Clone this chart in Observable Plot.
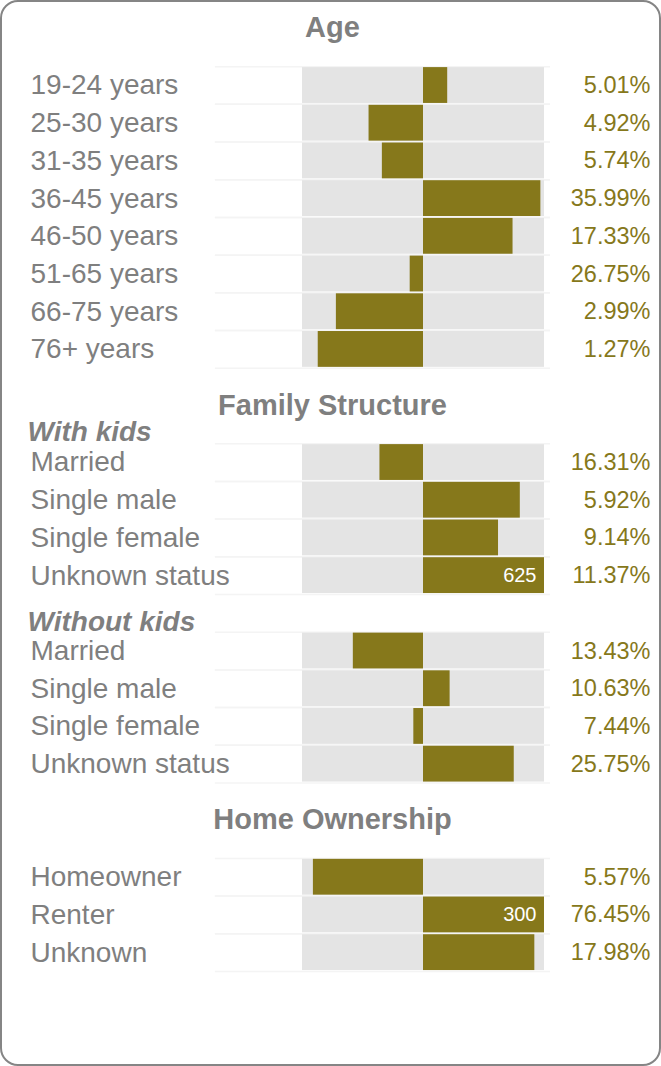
<!DOCTYPE html>
<html>
<head>
<meta charset="utf-8">
<script src="https://cdn.jsdelivr.net/npm/d3@7"></script>
<script src="https://cdn.jsdelivr.net/npm/@observablehq/plot@0.6"></script>
<style>
html, body { margin: 0; padding: 0; background: #fff; }
#card { position: relative; width: 661px; height: 1066px; overflow: hidden; }
#card::after { content: ""; position: absolute; inset: 0; border: 2px solid #858585; border-radius: 18px; box-sizing: border-box; pointer-events: none; }
#card svg { display: block; }
</style>
</head>
<body>
<div id="card"></div>
<script>
// ---- data ----
const sectionTitles = ["Age", "Family Structure", "Home Ownership"];
const subgroupTitles = ["With kids", "Without kids"];

const ageLabels = ["19-24 years", "25-30 years", "31-35 years", "36-45 years", "46-50 years", "51-65 years", "66-75 years", "76+ years"];
const ageIndex = [120, 55, 66, 197, 174, 89, 28, 13];
const agePct = [5.01, 4.92, 5.74, 35.99, 17.33, 26.75, 2.99, 1.27];

const familyLabels = ["Married", "Single male", "Single female", "Unknown status"];
const withKidsIndex = [64, 180, 162, 625];
const withKidsPct = [16.31, 5.92, 9.14, 11.37];
const withoutKidsIndex = [42, 122, 92, 175];
const withoutKidsPct = [13.43, 10.63, 7.44, 25.75];

const homeLabels = ["Homeowner", "Renter", "Unknown"];
const homeIndex = [9, 300, 192];
const homePct = [5.57, 76.45, 17.98];

const indexDomain = [0, 200];   // bars diverge from 100 (baseline); values above 200 are capped and labeled
const baseline = 100;

// ---- layout (row slots) ----
const rows = [];
function addRows(labels, idx, pct, start) {
  labels.forEach((label, i) => rows.push({label, index: idx[i], pct: pct[i], slot: start + i}));
}
addRows(ageLabels, ageIndex, agePct, 0);
addRows(familyLabels, withKidsIndex, withKidsPct, 10);
addRows(familyLabels, withoutKidsIndex, withoutKidsPct, 15);
addRows(homeLabels, homeIndex, homePct, 21);

const titleRows = sectionTitles.map((t, i) => ({text: t, slot: [-1.52, 8.48, 19.48][i]}));
const subRows = subgroupTitles.map((t, i) => ({text: t, slot: [9.2, 14.24][i]}));

const edges = [];
rows.forEach(r => { edges.push(r.slot - 0.5); edges.push(r.slot + 0.5); });

const gray = "#7f7f7f";
const olive = "#86781b";
const font = "'Liberation Sans', Arial, Helvetica, sans-serif";
const h = 0.475;

const chart = Plot.plot({
  width: 661,
  height: 1066,
  margin: 0,
  style: {fontFamily: font, background: "transparent", overflow: "visible"},
  x: {domain: indexDomain, range: [302, 544], axis: null},
  y: {domain: [-2.255, 26.02], range: [0, 1066], axis: null},
  marks: [
    Plot.ruleY(edges, {y: d => d, x1: -72, x2: 205, stroke: "#f4f4f4", strokeWidth: 1.5}),
    Plot.rect(rows, {x1: indexDomain[0], x2: indexDomain[1], y1: d => d.slot - h, y2: d => d.slot + h, fill: "#e4e4e4"}),
    Plot.rect(rows, {
      x1: baseline,
      x2: d => Math.max(indexDomain[0], Math.min(indexDomain[1], d.index)),
      y1: d => d.slot - h, y2: d => d.slot + h, fill: olive
    }),
    Plot.text(rows.filter(d => d.index > indexDomain[1]), {
      x: indexDomain[1], y: "slot", text: d => String(d.index),
      dx: -8, textAnchor: "end", fill: "white", fontSize: 20, fontFamily: font
    }),
    Plot.text(rows, {
      frameAnchor: "left", y: "slot", text: "label", dx: 30, textAnchor: "start",
      fill: gray, fontSize: 28, fontFamily: font
    }),
    Plot.text(rows, {
      frameAnchor: "right", y: "slot", text: d => d.pct.toFixed(2) + "%", dx: -11, textAnchor: "end",
      fill: olive, fontSize: 23.5, fontFamily: font
    }),
    Plot.text(titleRows, {
      frameAnchor: "middle", y: "slot", text: "text", dx: 1.5,
      fill: gray, fontSize: 29, fontWeight: "bold", fontFamily: font
    }),
    Plot.text(subRows, {
      frameAnchor: "left", y: "slot", text: "text", dx: 27, textAnchor: "start",
      fill: gray, fontSize: 28, fontWeight: "bold", fontStyle: "italic", fontFamily: font
    })
  ]
});
document.getElementById("card").appendChild(chart);
</script>
</body>
</html>
